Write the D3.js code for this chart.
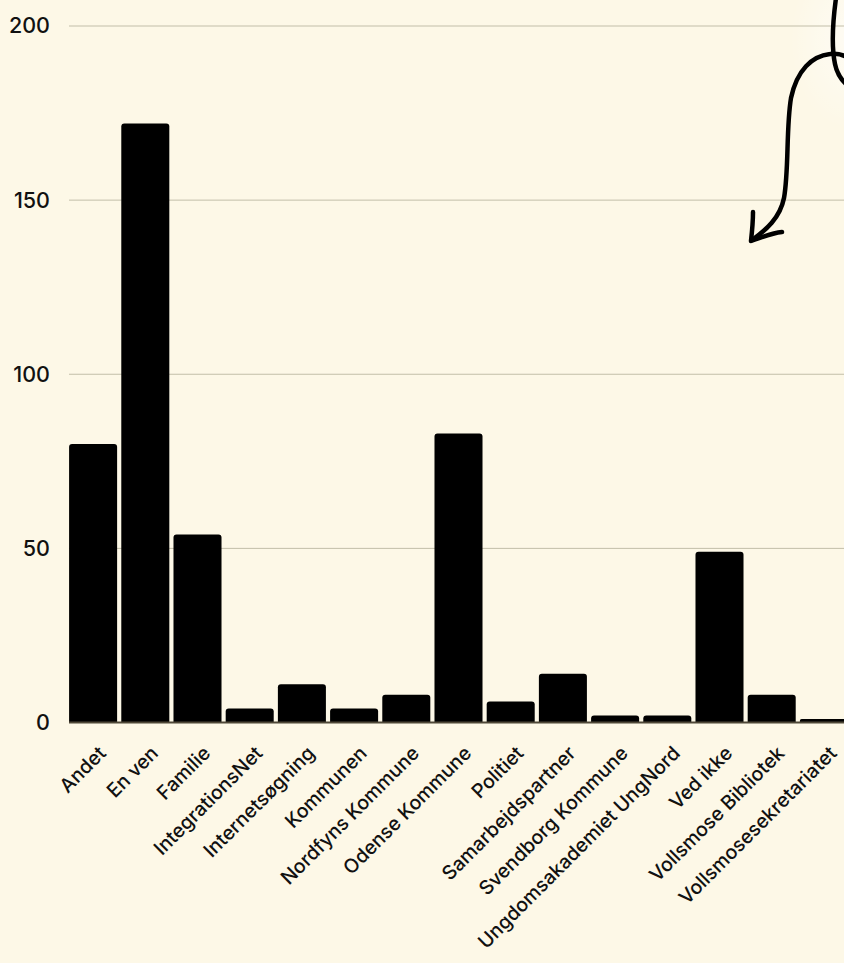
<!DOCTYPE html>
<html>
<head>
<meta charset="utf-8">
<script src="https://cdn.jsdelivr.net/npm/d3@7"></script>
<style>
  html, body { margin: 0; padding: 0; background: #fdf8e7; }
  svg { display: block; }
  text { font-family: Inter, "Noto Sans", sans-serif; fill: #111; }
</style>
</head>
<body>
<svg id="chart" width="844" height="963"></svg>
<script>
// Categories and counts
const categories = [
  "Andet", "En ven", "Familie", "IntegrationsNet", "Internetsøgning",
  "Kommunen", "Nordfyns Kommune", "Odense Kommune", "Politiet",
  "Samarbejdspartner", "Svendborg Kommune", "Ungdomsakademiet UngNord",
  "Ved ikke", "Vollsmose Bibliotek", "Vollsmosesekretariatet"
];
const counts = [80, 172, 54, 4, 11, 4, 8, 83, 6, 14, 2, 2, 49, 8, 1];
const yTicks = [0, 50, 100, 150, 200];

const svg = d3.select("#chart");
const W = 844, H = 963;

// faint light glow in the upper right corner
const defs = svg.append("defs");
const glow = defs.append("radialGradient").attr("id", "glow");
glow.append("stop").attr("offset", "0%").attr("stop-color", "#ffffff").attr("stop-opacity", 0.55);
glow.append("stop").attr("offset", "100%").attr("stop-color", "#ffffff").attr("stop-opacity", 0);
svg.append("rect").attr("width", W).attr("height", H).attr("fill", "#fdf8e7");
svg.append("ellipse").attr("cx", 850).attr("cy", 40).attr("rx", 60).attr("ry", 90)
  .attr("fill", "url(#glow)");

const x = d3.scaleBand()
  .domain(categories)
  .range([67, 850])
  .paddingInner(0.08)
  .paddingOuter(0.04);

const y = d3.scaleLinear().domain([0, 200]).range([722.5, 26]);

// gridlines
svg.append("g").selectAll("line").data(yTicks.filter(d => d > 0)).join("line")
  .attr("x1", 69).attr("x2", W)
  .attr("y1", d => y(d)).attr("y2", d => y(d))
  .attr("stroke", "#c2bea9").attr("stroke-width", 1);

// y axis labels
const yAxis = svg.append("g")
  .attr("transform", "translate(50,0)")
  .call(d3.axisLeft(y).tickValues(yTicks).tickSize(0).tickPadding(0));
yAxis.select(".domain").remove();
yAxis.selectAll("text")
  .attr("font-size", 21.5)
  .attr("font-weight", 500)
  .attr("font-family", "Inter, 'Noto Sans', sans-serif")
  .attr("fill", "#111");

// bars with rounded tops
const r = 3;
function barPath(d, i) {
  const x0 = x(categories[i]), w = x.bandwidth();
  const yb = y(0), yt = y(d);
  const rr = Math.min(r, (yb - yt) / 2);
  return `M${x0},${yb}V${yt + rr}Q${x0},${yt} ${x0 + rr},${yt}` +
         `H${x0 + w - rr}Q${x0 + w},${yt} ${x0 + w},${yt + rr}V${yb}Z`;
}
svg.append("g").selectAll("path").data(counts).join("path")
  .attr("d", (d, i) => barPath(d, i))
  .attr("fill", "#000");

// baseline
svg.append("line")
  .attr("x1", 69).attr("x2", W)
  .attr("y1", y(0)).attr("y2", y(0))
  .attr("stroke", "#4f4838").attr("stroke-width", 2);

// x axis labels, rotated
const xAxis = svg.append("g")
  .attr("transform", `translate(0,${y(0)})`)
  .call(d3.axisBottom(x).tickSize(0).tickPadding(0));
xAxis.select(".domain").remove();
xAxis.selectAll("text")
  .attr("font-size", 19.5)
  .attr("font-weight", 500)
  .attr("font-family", "Inter, 'Noto Sans', sans-serif")
  .attr("fill", "#111")
  .attr("text-anchor", "end")
  .attr("dy", null)
  .attr("y", null)
  .attr("transform", "translate(14,32) rotate(-45)");

// hand-drawn curly arrow
const ink = svg.append("g")
  .attr("fill", "none").attr("stroke", "#000")
  .attr("stroke-width", 4.5).attr("stroke-linecap", "round").attr("stroke-linejoin", "round");
ink.append("path").attr("d", "M836,-2 C833,20 831,45 835,64 C837,74 841,80 848,86");
ink.append("path").attr("d", "M848,58 C842,54 836,53 830,54 C812,56 797,70 791,98 C786,128 789,170 784,198 C780,218 766,230 752,240");
ink.append("path").attr("d", "M753,212 C753,222 752,232 751,241 C762,237 772,233 782,232");
</script>
</body>
</html>
